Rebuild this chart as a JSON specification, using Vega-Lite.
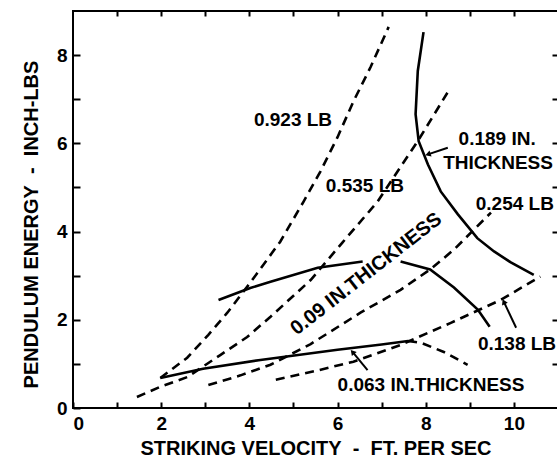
{
  "$schema": "https://vega.github.io/schema/vega-lite/v6.json",
  "width": 485,
  "height": 397,
  "autosize": "none",
  "padding": {"left": 73, "top": 11, "right": 0, "bottom": 57},
  "background": "white",
  "config": {
    "view": {"stroke": "black", "strokeWidth": 2},
    "font": "Liberation Sans",
    "axis": {"grid": false, "domain": false, "tickColor": "black", "tickWidth": 2, "labelColor": "black", "labelFontSize": 19, "labelFontWeight": "bold", "titleColor": "black", "titleFontSize": 20, "titleFontWeight": "bold"}
  },
  "data": {"values": [
    {"k": "d", "c": "0.923 LB", "i": 1, "x": 1.98, "y": 0.68},
    {"k": "d", "c": "0.923 LB", "i": 2, "x": 2.59, "y": 1.14},
    {"k": "d", "c": "0.923 LB", "i": 3, "x": 3.07, "y": 1.66},
    {"k": "d", "c": "0.923 LB", "i": 4, "x": 3.5, "y": 2.16},
    {"k": "d", "c": "0.923 LB", "i": 5, "x": 4.02, "y": 2.84},
    {"k": "d", "c": "0.923 LB", "i": 6, "x": 4.7, "y": 3.77},
    {"k": "d", "c": "0.923 LB", "i": 7, "x": 5.23, "y": 4.68},
    {"k": "d", "c": "0.923 LB", "i": 8, "x": 5.61, "y": 5.36},
    {"k": "d", "c": "0.923 LB", "i": 9, "x": 6.0, "y": 6.14},
    {"k": "d", "c": "0.923 LB", "i": 10, "x": 6.36, "y": 6.95},
    {"k": "d", "c": "0.923 LB", "i": 11, "x": 6.75, "y": 7.73},
    {"k": "d", "c": "0.923 LB", "i": 12, "x": 7.16, "y": 8.64},
    {"k": "d", "c": "0.535 LB", "i": 1, "x": 1.45, "y": 0.25},
    {"k": "d", "c": "0.535 LB", "i": 2, "x": 1.98, "y": 0.48},
    {"k": "d", "c": "0.535 LB", "i": 3, "x": 2.59, "y": 0.7},
    {"k": "d", "c": "0.535 LB", "i": 4, "x": 3.34, "y": 1.2},
    {"k": "d", "c": "0.535 LB", "i": 5, "x": 3.95, "y": 1.61},
    {"k": "d", "c": "0.535 LB", "i": 6, "x": 4.48, "y": 2.07},
    {"k": "d", "c": "0.535 LB", "i": 7, "x": 5.39, "y": 2.9},
    {"k": "d", "c": "0.535 LB", "i": 8, "x": 6.11, "y": 3.75},
    {"k": "d", "c": "0.535 LB", "i": 9, "x": 6.91, "y": 4.68},
    {"k": "d", "c": "0.535 LB", "i": 10, "x": 7.36, "y": 5.36},
    {"k": "d", "c": "0.535 LB", "i": 11, "x": 7.82, "y": 6.05},
    {"k": "d", "c": "0.535 LB", "i": 12, "x": 8.5, "y": 7.16},
    {"k": "d", "c": "0.254 LB", "i": 1, "x": 3.07, "y": 0.52},
    {"k": "d", "c": "0.254 LB", "i": 2, "x": 3.8, "y": 0.74},
    {"k": "d", "c": "0.254 LB", "i": 3, "x": 4.48, "y": 0.98},
    {"k": "d", "c": "0.254 LB", "i": 4, "x": 5.39, "y": 1.45},
    {"k": "d", "c": "0.254 LB", "i": 5, "x": 6.52, "y": 2.16},
    {"k": "d", "c": "0.254 LB", "i": 6, "x": 7.43, "y": 2.68},
    {"k": "d", "c": "0.254 LB", "i": 7, "x": 8.1, "y": 3.14},
    {"k": "d", "c": "0.254 LB", "i": 8, "x": 8.64, "y": 3.59},
    {"k": "d", "c": "0.254 LB", "i": 9, "x": 9.48, "y": 4.43},
    {"k": "d", "c": "0.138 LB", "i": 1, "x": 4.6, "y": 0.64},
    {"k": "d", "c": "0.138 LB", "i": 2, "x": 5.5, "y": 0.84},
    {"k": "d", "c": "0.138 LB", "i": 3, "x": 6.36, "y": 1.05},
    {"k": "d", "c": "0.138 LB", "i": 4, "x": 7.43, "y": 1.43},
    {"k": "d", "c": "0.138 LB", "i": 5, "x": 8.57, "y": 1.93},
    {"k": "d", "c": "0.138 LB", "i": 6, "x": 9.7, "y": 2.45},
    {"k": "d", "c": "0.138 LB", "i": 7, "x": 10.6, "y": 2.98},
    {"k": "d", "c": "0.063 ext", "i": 1, "x": 7.6, "y": 1.52},
    {"k": "d", "c": "0.063 ext", "i": 2, "x": 7.89, "y": 1.48},
    {"k": "d", "c": "0.063 ext", "i": 3, "x": 8.41, "y": 1.27},
    {"k": "d", "c": "0.063 ext", "i": 4, "x": 8.95, "y": 0.98},
    {"k": "s", "c": "0.063 IN", "i": 1, "x": 1.98, "y": 0.68},
    {"k": "s", "c": "0.063 IN", "i": 2, "x": 2.95, "y": 0.89},
    {"k": "s", "c": "0.063 IN", "i": 3, "x": 4.25, "y": 1.09},
    {"k": "s", "c": "0.063 IN", "i": 4, "x": 6.0, "y": 1.32},
    {"k": "s", "c": "0.063 IN", "i": 5, "x": 7.0, "y": 1.44},
    {"k": "s", "c": "0.063 IN", "i": 6, "x": 7.6, "y": 1.52},
    {"k": "s", "c": "0.09 IN a", "i": 1, "x": 3.3, "y": 2.45},
    {"k": "s", "c": "0.09 IN a", "i": 2, "x": 4.02, "y": 2.72},
    {"k": "s", "c": "0.09 IN a", "i": 3, "x": 4.48, "y": 2.86},
    {"k": "s", "c": "0.09 IN a", "i": 4, "x": 5.55, "y": 3.18},
    {"k": "s", "c": "0.09 IN a", "i": 5, "x": 6.57, "y": 3.32},
    {"k": "s", "c": "0.09 IN b", "i": 1, "x": 7.43, "y": 3.32},
    {"k": "s", "c": "0.09 IN b", "i": 2, "x": 8.1, "y": 3.14},
    {"k": "s", "c": "0.09 IN b", "i": 3, "x": 8.64, "y": 2.73},
    {"k": "s", "c": "0.09 IN b", "i": 4, "x": 9.18, "y": 2.23},
    {"k": "s", "c": "0.09 IN b", "i": 5, "x": 9.45, "y": 1.84},
    {"k": "s", "c": "0.189 IN", "i": 1, "x": 7.95, "y": 8.52},
    {"k": "s", "c": "0.189 IN", "i": 2, "x": 7.82, "y": 7.64},
    {"k": "s", "c": "0.189 IN", "i": 3, "x": 7.77, "y": 6.66},
    {"k": "s", "c": "0.189 IN", "i": 4, "x": 7.84, "y": 6.05},
    {"k": "s", "c": "0.189 IN", "i": 5, "x": 8.05, "y": 5.52},
    {"k": "s", "c": "0.189 IN", "i": 6, "x": 8.34, "y": 4.91},
    {"k": "s", "c": "0.189 IN", "i": 7, "x": 8.73, "y": 4.39},
    {"k": "s", "c": "0.189 IN", "i": 8, "x": 9.17, "y": 3.85},
    {"k": "s", "c": "0.189 IN", "i": 9, "x": 9.55, "y": 3.55},
    {"k": "s", "c": "0.189 IN", "i": 10, "x": 9.93, "y": 3.3},
    {"k": "s", "c": "0.189 IN", "i": 11, "x": 10.45, "y": 3.02},
    {"k": "t", "c": "0.923 LB", "x": 4.99, "y": 6.52},
    {"k": "t", "c": "0.535 LB", "x": 6.62, "y": 5.04},
    {"k": "t", "c": "0.189 IN.", "x": 9.62, "y": 6.1},
    {"k": "t", "c": "THICKNESS", "x": 9.64, "y": 5.55},
    {"k": "t", "c": "0.254 LB", "x": 10.02, "y": 4.62},
    {"k": "t", "c": "0.138 LB", "x": 10.07, "y": 1.45},
    {"k": "t", "c": "0.063 IN.THICKNESS", "x": 8.12, "y": 0.52},
    {"k": "r", "c": "0.09 IN.THICKNESS", "x": 6.65, "y": 3.04},
    {"k": "a", "c": "0.189", "x": 8.5, "y": 5.9, "x2": 8.05, "y2": 5.75},
    {"k": "a", "c": "0.063", "x": 6.68, "y": 0.86, "x2": 6.34, "y2": 1.27},
    {"k": "a", "c": "0.138", "x": 10.05, "y": 1.82, "x2": 9.77, "y2": 2.41}
  ]},
  "layer": [
    {
      "transform": [{"filter": "datum.k == 's'"}],
      "mark": {"type": "line", "color": "black", "strokeWidth": 2.6},
      "encoding": {
        "x": {"field": "x", "type": "quantitative", "scale": {"domain": [0, 11], "nice": false}, "axis": {"orient": "bottom", "offset": -6, "values": [0,1,2,3,4,5,6,7,8,9,10], "labelExpr": "datum.value % 2 == 0 ? datum.label : ''", "tickSize": 6, "labelPadding": 6, "title": "STRIKING VELOCITY\u00a0\u00a0-\u00a0\u00a0FT. PER SEC", "titleY": 46, "titleBaseline": "middle"}},
        "y": {"field": "y", "type": "quantitative", "scale": {"domain": [0, 9], "nice": false}, "axis": {"orient": "left", "offset": -7, "values": [0,1,2,3,4,5,6,7,8], "labelExpr": "datum.value % 2 == 0 ? datum.label : ''", "tickSize": 7, "labelPadding": 6, "title": "PENDULUM ENERGY\u00a0\u00a0-\u00a0\u00a0INCH-LBS", "titleX": -49, "titleY": 213, "titleAngle": -90, "titleAlign": "center", "titleBaseline": "middle"}},
        "detail": {"field": "c"},
        "order": {"field": "i", "type": "quantitative"}
      }
    },
    {
      "transform": [{"filter": "datum.k == 'd'"}],
      "mark": {"type": "line", "color": "black", "strokeWidth": 2.6, "strokeDash": [9, 6]},
      "encoding": {
        "x": {"field": "x", "type": "quantitative", "axis": {"orient": "top", "offset": -5, "values": [1,2,3,4,5,6,7,8,9,10], "labels": false, "tickSize": 5, "title": null}},
        "y": {"field": "y", "type": "quantitative", "axis": {"orient": "right", "offset": -6, "values": [1,2,3,4,5,6,7,8], "labels": false, "tickSize": 6, "title": null}},
        "detail": {"field": "c"},
        "order": {"field": "i", "type": "quantitative"}
      }
    },
    {
      "transform": [{"filter": "datum.k == 't'"}],
      "mark": {"type": "text", "fontWeight": "bold", "fontSize": 19, "color": "black", "align": "center", "baseline": "middle"},
      "encoding": {
        "x": {"field": "x", "type": "quantitative", "axis": null},
        "y": {"field": "y", "type": "quantitative", "axis": null},
        "text": {"field": "c"}
      }
    },
    {
      "transform": [{"filter": "datum.k == 'r'"}],
      "mark": {"type": "text", "fontWeight": "bold", "fontSize": 20, "color": "black", "align": "center", "baseline": "middle", "angle": -38},
      "encoding": {
        "x": {"field": "x", "type": "quantitative", "axis": null},
        "y": {"field": "y", "type": "quantitative", "axis": null},
        "text": {"field": "c"}
      }
    },
    {
      "transform": [{"filter": "datum.k == 'a'"}],
      "mark": {"type": "rule", "color": "black", "strokeWidth": 2},
      "encoding": {
        "x": {"field": "x", "type": "quantitative", "axis": null},
        "y": {"field": "y", "type": "quantitative", "axis": null},
        "x2": {"field": "x2"},
        "y2": {"field": "y2"}
      }
    },
    {
      "transform": [{"filter": "datum.k == 'a' && datum.c == '0.189'"}],
      "mark": {"type": "point", "shape": "triangle-up", "filled": true, "color": "black", "opacity": 1, "size": 40, "angle": 251},
      "encoding": {
        "x": {"field": "x2", "type": "quantitative", "axis": null},
        "y": {"field": "y2", "type": "quantitative", "axis": null}
      }
    },
    {
      "transform": [{"filter": "datum.k == 'a' && datum.c == '0.063'"}],
      "mark": {"type": "point", "shape": "triangle-up", "filled": true, "color": "black", "opacity": 1, "size": 40, "angle": 320},
      "encoding": {
        "x": {"field": "x2", "type": "quantitative", "axis": null},
        "y": {"field": "y2", "type": "quantitative", "axis": null}
      }
    },
    {
      "transform": [{"filter": "datum.k == 'a' && datum.c == '0.138'"}],
      "mark": {"type": "point", "shape": "triangle-up", "filled": true, "color": "black", "opacity": 1, "size": 40, "angle": 335},
      "encoding": {
        "x": {"field": "x2", "type": "quantitative", "axis": null},
        "y": {"field": "y2", "type": "quantitative", "axis": null}
      }
    }
  ],
  "resolve": {"axis": {"x": "independent", "y": "independent"}}
}
